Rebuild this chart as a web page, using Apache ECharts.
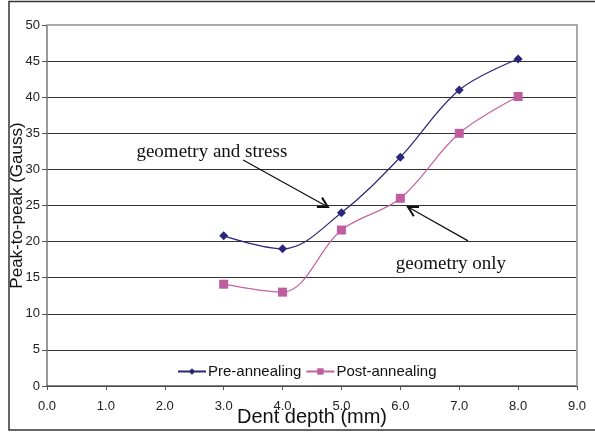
<!DOCTYPE html>
<html>
<head>
<meta charset="utf-8">
<script src="https://cdn.jsdelivr.net/npm/echarts@6/dist/echarts.min.js"></script>
<style>
html,body{margin:0;padding:0;background:#fff;}
#c{width:595px;height:433px;}
</style>
</head>
<body>
<div id="c"></div>
<script>
var depths = [3, 4, 5, 6, 7, 8];
var preAnnealing = [20.8, 19.0, 24.0, 31.7, 41.0, 45.3];
var postAnnealing = [14.1, 13.0, 21.6, 26.0, 35.0, 40.1];
var seriesNames = ['Pre-annealing', 'Post-annealing'];
var annotations = [
  {text: 'geometry and stress', at: [2.8, 32.4], from: [3.33, 31.3], to: [4.77, 24.8]},
  {text: 'geometry only', at: [6.86, 16.9], from: [7.15, 20.1], to: [6.13, 24.8]}
];

function pairs(xs, ys){ return xs.map(function(x,i){ return [x, ys[i]]; }); }

var chart = echarts.init(document.getElementById('c'), null, {renderer:'canvas'});
var font = 'Liberation Sans, Arial, sans-serif';
chart.setOption({
  animation: false,
  grid: {left: 47, right: 18, top: 25, bottom: 47, containLabel: false, outerBoundsMode: 'none'},
  xAxis: {
    type: 'value', min: 0, max: 9, interval: 1,
    name: 'Dent depth (mm)', nameLocation: 'middle', nameGap: 21, nameMoveOverlap: false,
    nameTextStyle: {fontFamily: font, fontSize: 20, color: '#111'},
    axisLine: {show: true, onZero: false, lineStyle: {color: '#555', width: 1.5}},
    axisTick: {show: true, inside: false, length: 4, lineStyle: {color: '#555'}},
    axisLabel: {fontFamily: font, fontSize: 13, color: '#222', margin: 14,
      formatter: function(v){ return v.toFixed(1); }},
    splitLine: {show: false}
  },
  yAxis: {
    type: 'value', min: 0, max: 50, interval: 5,
    name: 'Peak-to-peak (Gauss)', nameLocation: 'middle', nameGap: 21, nameMoveOverlap: false,
    nameTextStyle: {fontFamily: font, fontSize: 17, color: '#111'},
    axisLine: {show: true, lineStyle: {color: '#777', width: 1.5}},
    axisTick: {show: true, inside: false, length: 5, lineStyle: {color: '#555'}},
    axisLabel: {fontFamily: font, fontSize: 13, color: '#222', margin: 7},
    splitLine: {show: true, lineStyle: {color: '#333', width: 1}}
  },
  legend: {
    left: 172, top: 359, itemGap: 4, itemWidth: 28, itemHeight: 8,
    textStyle: {fontFamily: font, fontSize: 15, color: '#111', padding: [0,0,0,-3]},
    data: seriesNames
  },
  series: [
    {
      name: seriesNames[0], type: 'line', data: pairs(depths, preAnnealing),
      smooth: 0.35, symbol: 'diamond', symbolSize: 9,
      lineStyle: {color: '#2a2679', width: 1.2},
      itemStyle: {color: '#2a2679'}
    },
    {
      name: seriesNames[1], type: 'line', data: pairs(depths, postAnnealing),
      smooth: 0.35, symbol: 'rect', symbolSize: 9,
      lineStyle: {color: '#c462a4', width: 1.2},
      itemStyle: {color: '#c05d9f'}
    }
  ]
});

function arrowHead(to, from){
  var dx = from[0]-to[0], dy = from[1]-to[1];
  var len = Math.sqrt(dx*dx+dy*dy); dx/=len; dy/=len;
  var L = 11, a = 0.5;
  function rot(t){ return [to[0] + L*(dx*Math.cos(t) - dy*Math.sin(t)), to[1] + L*(dx*Math.sin(t) + dy*Math.cos(t))]; }
  return [rot(a), to, rot(-a)];
}

var g = [];
var gridPix = {
  tl: chart.convertToPixel({gridIndex:0}, [0, 50]),
  br: chart.convertToPixel({gridIndex:0}, [9, 0])
};
// outer frame
g.push({type:'rect', shape:{x:9, y:1.5, width:600, height:428.5}, style:{fill:null, stroke:'#333', lineWidth:1.5}, z:100});
// plot top + right border
g.push({type:'polyline', shape:{points:[[gridPix.tl[0], gridPix.tl[1]],[gridPix.br[0], gridPix.tl[1]],[gridPix.br[0], gridPix.br[1]]]}, style:{stroke:'#aaa', lineWidth:2, fill:null}, z:100});
annotations.forEach(function(an){
  var p = chart.convertToPixel({gridIndex:0}, an.at);
  var f = chart.convertToPixel({gridIndex:0}, an.from);
  var t = chart.convertToPixel({gridIndex:0}, an.to);
  g.push({type:'text', x:p[0], y:p[1], style:{text:an.text, fontFamily:'Liberation Serif, Times New Roman, serif', fontSize:19, fill:'#111', align:'center', verticalAlign:'middle'}, z:100});
  g.push({type:'line', shape:{x1:f[0], y1:f[1], x2:t[0], y2:t[1]}, style:{stroke:'#111', lineWidth:1.3}, z:100});
  g.push({type:'polyline', shape:{points: arrowHead(t, f)}, style:{stroke:'#111', lineWidth:2, fill:null}, z:100});
});
chart.setOption({graphic: g});
</script>
</body>
</html>
